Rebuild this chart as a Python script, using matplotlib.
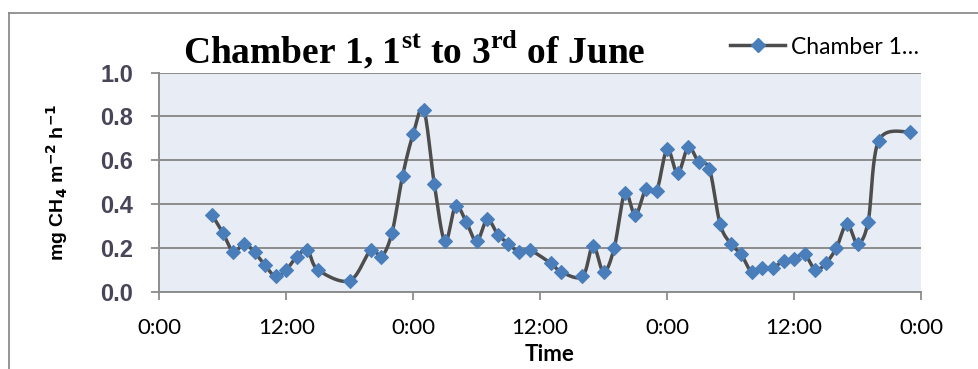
import numpy as np
import matplotlib
matplotlib.use("Agg")
import matplotlib.pyplot as plt
from matplotlib.lines import Line2D

# hours since 1 June 00:00, and CH4 flux for chamber 1
hours = [5, 6, 7, 8, 9, 10, 11, 12, 13, 14, 15, 18, 20, 21, 22, 23, 24, 25,
         26, 27, 28, 29, 30, 31, 32, 33, 34, 35, 37, 38, 40, 41, 42, 43, 44,
         45, 46, 47, 48, 49, 50, 51, 52, 53, 54, 55, 56, 57, 58, 59, 60, 61,
         62, 63, 64, 65, 66, 67, 68, 71]
flux = [0.35, 0.27, 0.18, 0.22, 0.18, 0.12, 0.07, 0.10, 0.16, 0.19, 0.10,
        0.05, 0.19, 0.16, 0.27, 0.53, 0.72, 0.83, 0.49, 0.23, 0.39, 0.32,
        0.23, 0.33, 0.26, 0.22, 0.18, 0.19, 0.13, 0.09, 0.07, 0.21, 0.09,
        0.20, 0.45, 0.35, 0.47, 0.46, 0.65, 0.54, 0.66, 0.59, 0.56, 0.31,
        0.22, 0.17, 0.09, 0.11, 0.11, 0.14, 0.15, 0.17, 0.10, 0.13, 0.20,
        0.31, 0.22, 0.32, 0.69, 0.73]

xticks = [0, 12, 24, 36, 48, 60, 72]
xticklabels = ["0:00", "12:00", "0:00", "12:00", "0:00", "12:00", "0:00"]
yticks = [0.0, 0.2, 0.4, 0.6, 0.8, 1.0]

plt.rcParams["mathtext.fontset"] = "custom"
plt.rcParams["mathtext.rm"] = "Liberation Serif:bold"
plt.rcParams["mathtext.bf"] = "Liberation Serif:bold"


def smooth(x, y, tension=1 / 6, n=24):
    # excel style smoothed line: cubic bezier through every point
    p = np.column_stack([x, y]).astype(float)
    ext = np.vstack([p[0], p, p[-1]])
    out = []
    for i in range(len(p) - 1):
        p0, p1, p2, p3 = ext[i], ext[i + 1], ext[i + 2], ext[i + 3]
        c1 = p1 + (p2 - p0) * tension
        c2 = p2 - (p3 - p1) * tension
        t = np.linspace(0, 1, n)[:, None]
        seg = ((1 - t) ** 3 * p1 + 3 * (1 - t) ** 2 * t * c1
               + 3 * (1 - t) * t ** 2 * c2 + t ** 3 * p2)
        out.append(seg if i == 0 else seg[1:])
    out = np.vstack(out)
    return out[:, 0], out[:, 1]


fig = plt.figure(figsize=(9.79, 3.69), dpi=100)
ax = fig.add_axes([0.1627, 0.2095, 0.7781, 0.5935])
ax.set_facecolor("#E8EDF5")

grid_c = "#8C8C8C"
sx, sy = smooth(hours, flux)
ax.plot(sx, sy, color="#4D4D4D", lw=2.5, solid_capstyle="round", zorder=3)
ax.plot(hours, flux, ls="none", marker="D", ms=6.8, color="#4A7EBB",
        mec="#4A7EBB", mew=0.8, zorder=4)

ax.set_xlim(0, 72)
ax.set_ylim(0, 1.0)
ax.set_xticks(xticks)
ax.set_xticklabels(xticklabels, fontfamily="Lato", fontsize=16)
ax.set_yticks(yticks)
ax.set_yticklabels(["%.1f" % v for v in yticks], fontfamily="Liberation Sans",
                   fontsize=17, fontweight="bold", color="#4A4458")
ax.yaxis.grid(True, color=grid_c, lw=1.4)
ax.set_axisbelow(True)
ax.tick_params(axis="both", direction="out", length=6, width=1.3,
               color=grid_c)
ax.tick_params(axis="x", pad=13)
ax.tick_params(axis="y", pad=13)
for side in ("top", "right"):
    ax.spines[side].set_visible(False)
for side in ("left", "bottom"):
    ax.spines[side].set_color(grid_c)
    ax.spines[side].set_linewidth(1.4)

ax.set_xlabel("Time", fontfamily="Lato", fontweight="bold", fontsize=16)
ax.xaxis.set_label_coords(0.512, -0.24)
ax.set_ylabel(r"mg CH$_\mathbf{4}$ m$^\mathbf{-2}$ h$^\mathbf{-1}$",
              fontfamily="Liberation Sans", fontweight="bold", fontsize=14,
              math_fontfamily="dejavusans")
ax.yaxis.set_label_coords(-0.117, 0.5)

fig.text(414 / 979, 1 - 50 / 369,
         r"Chamber 1, 1$^{\mathrm{st}}$ to 3$^{\mathrm{rd}}$ of June",
         fontfamily="Liberation Serif", fontweight="bold", fontsize=27,
         ha="center", va="center")

handle = Line2D([], [], color="#4D4D4D", lw=2.5, marker="D", ms=6.8,
                mfc="#4A7EBB", mec="#4A7EBB")
fig.legend([handle], ["Chamber 1\u2026"], loc="center left",
           bbox_to_anchor=(730 / 979, 1 - 47 / 369), frameon=False,
           borderpad=0, borderaxespad=0, handlelength=2.4,
           handletextpad=0.25, numpoints=1,
           prop={"family": "Lato", "size": 16.5})

# outer chart border
fig.add_artist(Line2D([9 / 979, 9 / 979], [0, 1 - 13 / 369],
                      transform=fig.transFigure, color="#8C8C8C", lw=1.3))
fig.add_artist(Line2D([9 / 979, 1], [1 - 13 / 369, 1 - 13 / 369],
                      transform=fig.transFigure, color="#8C8C8C", lw=1.3))

fig.savefig("out.png", dpi=100)
